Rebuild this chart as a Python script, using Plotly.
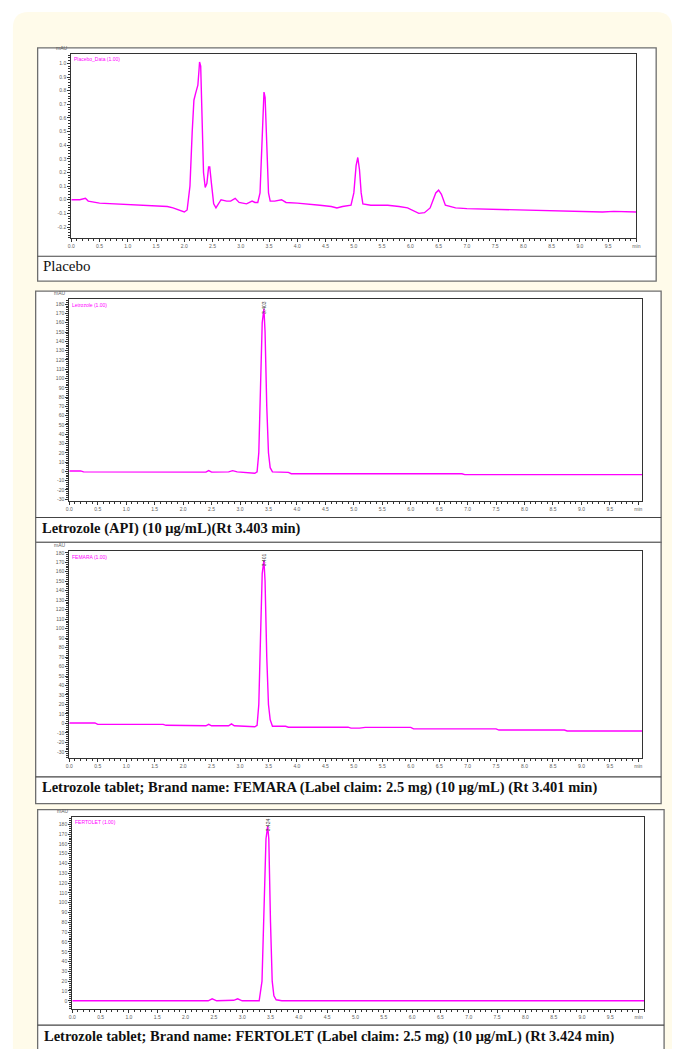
import plotly.graph_objects as go

W, H = 677, 1049

# ---------------- data ----------------
placebo_t = [0.0, 0.15, 0.25, 0.3, 0.5, 0.8, 1.0, 1.2, 1.5, 1.7, 1.8, 1.9, 1.95, 2.0, 2.05,
             2.1, 2.14, 2.17, 2.2, 2.24, 2.26, 2.27, 2.29, 2.31, 2.34, 2.37, 2.4, 2.43, 2.45,
             2.48, 2.52, 2.56, 2.6, 2.65, 2.75, 2.82, 2.9, 2.97, 3.1, 3.2, 3.25, 3.3, 3.34,
             3.37, 3.41, 3.43, 3.46, 3.49, 3.52, 3.6, 3.72, 3.8, 4.0, 4.2, 4.4, 4.6, 4.7,
             4.8, 4.9, 4.95, 5.0, 5.04, 5.07, 5.1, 5.13, 5.16, 5.3, 5.6, 5.8, 5.95, 6.15,
             6.25, 6.35, 6.45, 6.5, 6.55, 6.62, 6.8, 7.0, 7.5, 8.0, 8.5, 9.0, 9.4, 9.6, 10.0]
placebo_v = [0.0, 0.0, 0.01, -0.01, -0.025, -0.03, -0.035, -0.04, -0.045, -0.05, -0.06, -0.075, -0.085, -0.09, -0.075,
             0.1, 0.5, 0.73, 0.78, 0.84, 0.95, 1.01, 0.98, 0.7, 0.2, 0.09, 0.12, 0.24, 0.24,
             0.12, -0.03, -0.06, -0.03, 0.0, -0.01, -0.01, 0.01, -0.02, -0.03, -0.01, -0.02, -0.02, 0.05,
             0.4, 0.79, 0.75, 0.4, 0.05, -0.01, -0.01, 0.0, -0.02, -0.025, -0.03, -0.04, -0.05, -0.06,
             -0.05, -0.045, -0.04, 0.05, 0.25, 0.31, 0.22, 0.05, -0.03, -0.04, -0.04, -0.05, -0.06, -0.1,
             -0.095, -0.06, 0.05, 0.07, 0.04, -0.04, -0.06, -0.065, -0.07, -0.075, -0.08, -0.085, -0.09, -0.085, -0.09]

api_t = [0.0, 0.2, 0.25, 1.0, 2.0, 2.4, 2.45, 2.5, 2.8, 2.87, 2.95, 3.2, 3.26, 3.3, 3.33,
         3.36, 3.39, 3.42, 3.44, 3.47, 3.5, 3.53, 3.57, 3.85, 3.9, 6.9, 6.95, 10.1]
api_v = [0.5, 0.5, -0.5, -0.5, -0.8, -0.8, 0.8, -0.8, -0.5, 0.8, -0.5, -1.5, -2.0, -0.5, 20,
         90, 160, 175, 150, 70, 20, 4, -0.5, -1.0, -2.5, -2.5, -3.5, -3.5]

femara_t = [0.0, 0.45, 0.5, 1.4, 1.5, 1.6, 1.65, 1.7, 2.0, 2.4, 2.45, 2.5, 2.8, 2.85, 2.9,
            3.2, 3.26, 3.3, 3.33, 3.36, 3.39, 3.42, 3.44, 3.47, 3.5, 3.53, 3.57, 3.8, 3.85,
            4.9, 4.95, 5.1, 5.15, 5.2, 6.0, 6.05, 7.5, 7.55, 8.7, 8.75, 10.1]
femara_v = [0.5, 0.5, -1.0, -1.5, -1.0, -1.5, -1.0, -2.0, -2.5, -2.5, -1.0, -2.5, -2.5, -0.5, -2.5,
            -3.0, -3.5, -2.0, 20, 90, 158, 172, 150, 70, 20, 4, -3.0, -3.0, -4.0,
            -4.0, -5.0, -5.0, -4.2, -4.2, -4.2, -5.8, -5.8, -7.0, -7.0, -8.0, -8.0]

fertolet_t = [0.0, 2.4, 2.47, 2.55, 2.85, 2.92, 3.0, 3.3, 3.35, 3.39, 3.42, 3.45, 3.47,
              3.5, 3.53, 3.56, 3.6, 3.7, 10.15]
fertolet_v = [0.0, 0.0, 2.0, 0.0, 0.5, 2.0, 0.0, 0.0, 20, 95, 165, 178, 165,
              80, 20, 5, 1.0, 0.0, 0.0]

x_tick_vals = [0.0, 0.5, 1.0, 1.5, 2.0, 2.5, 3.0, 3.5, 4.0, 4.5, 5.0, 5.5, 6.0, 6.5, 7.0,
               7.5, 8.0, 8.5, 9.0, 9.5, 10.0]
x_tick_text = ["0.0", "0.5", "1.0", "1.5", "2.0", "2.5", "3.0", "3.5", "4.0", "4.5", "5.0",
               "5.5", "6.0", "6.5", "7.0", "7.5", "8.0", "8.5", "9.0", "9.5", "min"]

placebo_y_ticks = [-0.2, -0.1, 0.0, 0.1, 0.2, 0.3, 0.4, 0.5, 0.6, 0.7, 0.8, 0.9, 1.0]
api_y_ticks = [-30, -20, -10, 0, 10, 20, 30, 40, 50, 60, 70, 80, 90, 100, 110, 120, 130,
               140, 150, 160, 170, 180]
femara_y_ticks = [-30, -20, -10, 0, 10, 20, 30, 40, 50, 60, 70, 80, 90, 100, 110, 120, 130,
                  140, 150, 160, 170, 180]
fertolet_y_ticks = [0, 10, 20, 30, 40, 50, 60, 70, 80, 90, 100, 110, 120, 130, 140, 150,
                    160, 170, 180]

captions = [
    "Placebo",
    "Letrozole (API) (10 μg/mL)(Rt 3.403 min)",
    "Letrozole tablet; Brand name: FEMARA (Label claim: 2.5 mg) (10 μg/mL) (Rt 3.401 min)",
    "Letrozole tablet; Brand name: FERTOLET (Label claim: 2.5 mg) (10 μg/mL) (Rt 3.424 min)",
]
signal_names = ["Placebo_Data (1.00)", "Letrozole (1.00)", "FEMARA (1.00)", "FERTOLET (1.00)"]
peak_labels = [None, "3.403", "3.401", "3.424"]
peak_times = [None, 3.42, 3.42, 3.45]

series_t = [placebo_t, api_t, femara_t, fertolet_t]
series_v = [placebo_v, api_v, femara_v, fertolet_v]
y_ticks = [placebo_y_ticks, api_y_ticks, femara_y_ticks, fertolet_y_ticks]
y_fmt = ["{:.1f}", "{:d}", "{:d}", "{:d}"]

# ---------------- layout geometry (pixels) ----------------
panels = [
    dict(box=(35, 46, 660, 280), sep=255, plot=(69, 52, 640, 237), xr=[0, 10.0],
         yr=[-0.283, 1.07], ydt=0.02, cap=(38, 265), bold=False),
    dict(box=(33, 290, 665, 542), sep=517, plot=(67, 298, 646, 500), xr=[0, 10.07],
         yr=[-31.4, 185.4], ydt=2, cap=(37, 528), bold=True),
    dict(box=(33, 542, 665, 804), sep=777, plot=(67, 551, 646, 758), xr=[0, 10.07],
         yr=[-36.3, 181.4], ydt=2, cap=(37, 788), bold=True),
    dict(box=(35, 810, 668, 1070), sep=1026, plot=(70, 817, 648, 1010), xr=[0, 10.1],
         yr=[-8.5, 187.8], ydt=2, cap=(39, 1037), bold=True),
]


def px(x):
    return x / W


def py(y):
    return 1 - y / H


MAGENTA = "#ff00ff"
BORDER = "#6e6e6e"
TICKFONT = dict(family="Liberation Sans", size=5, color="#606060")

fig = go.Figure()
shapes = []
annotations = []

# cream page with rounded top corners
rr = 16
path = (f"M {px(10)},{py(1100)} L {px(10)},{py(10 + rr)} "
        f"Q {px(10)},{py(10)} {px(10 + rr)},{py(10)} "
        f"L {px(660)},{py(10)} Q {px(676)},{py(10)} {px(676)},{py(10 + rr)} "
        f"L {px(676)},{py(1100)} Z")
shapes.append(dict(type="path", xref="paper", yref="paper", path=path,
                   fillcolor="#fffbea", line=dict(width=0), layer="below"))

layout_axes = {}
for i, p in enumerate(panels):
    n = i + 1
    xa = "xaxis" if n == 1 else f"xaxis{n}"
    ya = "yaxis" if n == 1 else f"yaxis{n}"
    xr_ = "x" if n == 1 else f"x{n}"
    yr_ = "y" if n == 1 else f"y{n}"
    bx0, by0, bx1, by1 = p["box"]
    # panel box
    shapes.append(dict(type="rect", xref="paper", yref="paper", x0=px(bx0), x1=px(bx1),
                       y0=py(by1), y1=py(by0), fillcolor="white",
                       line=dict(color=BORDER, width=1.3), layer="below"))
    shapes.append(dict(type="line", xref="paper", yref="paper", x0=px(bx0), x1=px(bx1),
                       y0=py(p["sep"]), y1=py(p["sep"]),
                       line=dict(color="#444444", width=1.2), layer="below"))
    lx0, ly0, lx1, ly1 = p["plot"]
    layout_axes[xa] = dict(
        domain=[px(lx0), px(lx1)], range=p["xr"], anchor=yr_,
        tickmode="array", tickvals=x_tick_vals, ticktext=x_tick_text,
        ticks="outside", ticklen=3, tickwidth=1, tickcolor="#333",
        minor=dict(dtick=0.1, tick0=0, ticklen=2, tickcolor="#333", ticks="outside"),
        tickfont=TICKFONT, showgrid=False, zeroline=False,
        showline=True, mirror=True, linecolor="#333333", linewidth=1.2,
    )
    layout_axes[ya] = dict(
        domain=[py(ly1), py(ly0)], range=p["yr"], anchor=xr_,
        tickmode="array", tickvals=y_ticks[i],
        ticktext=[y_fmt[i].format(v) for v in y_ticks[i]],
        ticks="outside", ticklen=3, tickwidth=1, tickcolor="#333",
        minor=dict(dtick=p["ydt"], tick0=0, ticklen=2, tickcolor="#333", ticks="outside"),
        tickfont=TICKFONT, showgrid=False, zeroline=False,
        showline=True, mirror=True, linecolor="#333333", linewidth=1.2,
    )
    fig.add_trace(go.Scatter(x=series_t[i], y=series_v[i], mode="lines",
                             line=dict(color=MAGENTA, width=1.4), xaxis=xr_, yaxis=yr_,
                             showlegend=False, hoverinfo="x+y"))
    # caption
    annotations.append(dict(
        xref="paper", yref="paper", x=px(p["cap"][0]), y=py(p["cap"][1]),
        xanchor="left", yanchor="middle", showarrow=False,
        text=f"<b>{captions[i]}</b>" if p["bold"] else captions[i],
        font=dict(family="Liberation Serif", size=14.5 if p["bold"] else 15, color="#111111"),
    ))
    # mAU unit label
    annotations.append(dict(
        xref="paper", yref="paper", x=px(lx0 - 1), y=py(ly0 - 1),
        xanchor="right", yanchor="bottom", showarrow=False, text="mAU",
        font=dict(family="Liberation Sans", size=5, color="#606060"),
    ))
    # signal description
    annotations.append(dict(
        xref="paper", yref="paper", x=px(lx0 + 1), y=py(ly0 + 0.5),
        xanchor="left", yanchor="top", showarrow=False, text=signal_names[i],
        font=dict(family="Liberation Sans", size=5, color=MAGENTA),
    ))
    if peak_labels[i]:
        annotations.append(dict(
            xref=xr_, yref="paper", x=peak_times[i], y=py(ly0 + 8),
            xanchor="center", yanchor="middle", showarrow=False, text=peak_labels[i],
            textangle=-90, font=dict(family="Liberation Sans", size=5, color="#444444"),
        ))

fig.update_layout(
    width=W, height=H, margin=dict(l=0, r=0, t=0, b=0),
    paper_bgcolor="white", plot_bgcolor="rgba(0,0,0,0)",
    shapes=shapes, annotations=annotations, **layout_axes,
)

fig.write_html("out.html", config={"displayModeBar": False},
               post_script="document.body.style.margin='0';document.body.style.padding='0';")
